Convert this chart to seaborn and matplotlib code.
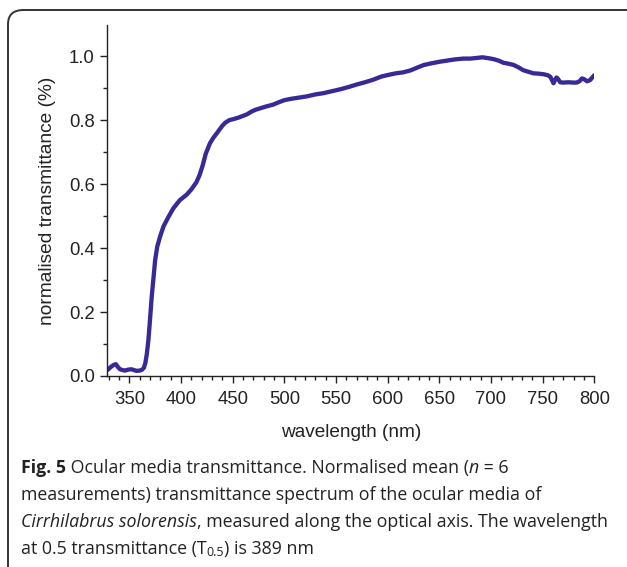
import matplotlib
matplotlib.use("Agg")
import matplotlib.pyplot as plt
import seaborn as sns
import pandas as pd
from matplotlib.patches import FancyBboxPatch
from matplotlib.ticker import MultipleLocator

wavelength = [329, 332, 334.5, 337, 339, 341, 344, 346, 349, 352, 355, 357, 360, 362,
              364, 365.5, 367, 368.5, 370, 371.7, 373.2, 375, 377, 379.7, 383, 388,
              392.6, 399, 405.6, 410, 415, 418, 421, 424, 428, 431, 435, 440, 443, 447,
              451, 456, 460, 464, 468, 472, 476, 482, 489, 495, 500, 506, 512, 518,
              522, 530, 538, 546, 554, 562, 570, 578, 586, 594, 602, 608, 615, 622,
              628, 635, 642, 650, 656, 664, 673, 680, 686, 692, 698, 703, 708, 712,
              717, 722, 727, 731, 736, 741, 746, 751, 755, 757.5, 759, 760.5, 762,
              763.5, 765, 767, 770, 775, 780, 783, 786, 788, 790, 793, 796, 798, 800]
transmittance = [0.019, 0.028, 0.034, 0.037, 0.028, 0.021, 0.018, 0.017, 0.020, 0.021,
                 0.018, 0.016, 0.017, 0.019, 0.025, 0.040, 0.070, 0.113, 0.175, 0.248,
                 0.300, 0.362, 0.404, 0.435, 0.467, 0.498, 0.524, 0.550, 0.567, 0.583,
                 0.606, 0.628, 0.658, 0.695, 0.727, 0.743, 0.760, 0.782, 0.792, 0.800,
                 0.803, 0.808, 0.813, 0.818, 0.826, 0.832, 0.836, 0.842, 0.848, 0.856,
                 0.862, 0.866, 0.869, 0.872, 0.874, 0.880, 0.884, 0.890, 0.896, 0.903,
                 0.911, 0.918, 0.926, 0.936, 0.942, 0.946, 0.949, 0.955, 0.963, 0.972,
                 0.977, 0.982, 0.985, 0.989, 0.992, 0.992, 0.994, 0.996, 0.993, 0.990,
                 0.985, 0.979, 0.976, 0.972, 0.964, 0.956, 0.951, 0.946, 0.945, 0.943,
                 0.940, 0.935, 0.925, 0.915, 0.925, 0.933, 0.928, 0.918, 0.917, 0.918,
                 0.917, 0.917, 0.922, 0.930, 0.928, 0.921, 0.925, 0.933, 0.940]
x_ticks = [350, 400, 450, 500, 550, 600, 650, 700, 750, 800]
y_ticks = [0.0, 0.2, 0.4, 0.6, 0.8, 1.0]

df = pd.DataFrame({"wavelength": wavelength, "transmittance": transmittance})

sns.set_style("ticks")
plt.rcParams["font.family"] = ["Liberation Sans", "DejaVu Sans"]

fig = plt.figure(figsize=(6.27, 5.67), dpi=100)
ax = fig.add_axes([107.3 / 627, 1 - 376 / 567, (594.3 - 107.3) / 627, (376 - 25) / 567])

sns.lineplot(data=df, x="wavelength", y="transmittance", ax=ax, color="#372a96",
             linewidth=3.1, estimator=None, sort=False)

ax.set_xlim(328.7, 800)
ax.set_ylim(0, 1.097)
ax.set_xticks(x_ticks)
ax.set_yticks(y_ticks)
ax.set_yticklabels([f"{v:.1f}" for v in y_ticks])
ax.xaxis.set_minor_locator(MultipleLocator(10))
ax.yaxis.set_minor_locator(MultipleLocator(0.1))
ax.tick_params(which="major", direction="out", length=5, width=1, labelsize=13.3, colors="#222222")
ax.tick_params(which="minor", direction="out", length=3, width=1, colors="#222222")
ax.tick_params(axis="x", pad=6)
ax.tick_params(axis="y", pad=4)
for s in ["top", "right"]:
    ax.spines[s].set_visible(False)
for s in ["left", "bottom"]:
    ax.spines[s].set_linewidth(1)
    ax.spines[s].set_color("#222222")
ax.set_xlabel("wavelength (nm)", fontsize=13.7, color="#222222", labelpad=11)
ax.set_ylabel("normalised transmittance (%)", fontsize=13.8, color="#222222", labelpad=9)

box = FancyBboxPatch((8 / 627, -0.05), 1.2, 1 - 10 / 567 + 0.05,
                     boxstyle="round,pad=0,rounding_size=0.025",
                     transform=fig.transFigure, fill=False, edgecolor="#333333",
                     linewidth=1.4, clip_on=False)
fig.patches.append(box)

cap_font = ["Open Sans", "DejaVu Sans"]
cap_size = 12.75
cap_color = "#222222"
x0 = 21 / 627
lines_y = [468, 495, 522, 549]
caption = [
    [("Fig. 5", "bold", "normal", 0), (" Ocular media transmittance. Normalised mean (", "normal", "normal", 0),
     ("n", "normal", "italic", 0), (" = 6", "normal", "normal", 0)],
    [("measurements) transmittance spectrum of the ocular media of", "normal", "normal", 0)],
    [("Cirrhilabrus solorensis", "normal", "italic", 0),
     (", measured along the optical axis. The wavelength", "normal", "normal", 0)],
    [("at 0.5 transmittance (T", "normal", "normal", 0), ("0.5", "normal", "normal", 1),
     (") is 389 nm", "normal", "normal", 0)],
]

renderer = fig.canvas.get_renderer()
for ly, pieces in zip(lines_y, caption):
    xpos = x0
    for txt, weight, style, sub in pieces:
        size = cap_size * (0.7 if sub else 1.0)
        yv = 1 - (ly + (4 if sub else 0)) / 567
        t = fig.text(xpos, yv, txt, fontsize=size, family=cap_font, fontweight=weight,
                     fontstyle=style, va="center", ha="left", color=cap_color)
        bb = t.get_window_extent(renderer=renderer)
        xpos = bb.x1 / fig.bbox.width

fig.savefig("out.png", dpi=100)
